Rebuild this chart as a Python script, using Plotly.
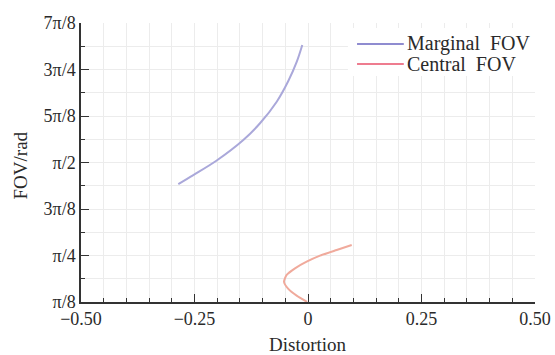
import math
import plotly.graph_objects as go

# Marginal FOV curve (distortion, FOV in rad)
marg_x = [-0.2857, -0.2526, -0.2011, -0.1425, -0.1057, -0.0689, -0.0434, -0.0249, -0.0126]
marg_y = [1.389, 1.465, 1.588, 1.761, 1.902, 2.084, 2.259, 2.420, 2.563]

# Central FOV curve
cent_x = [-0.002, -0.025, -0.0434, -0.0529, -0.047, -0.0286, -0.003, 0.0264, 0.0632, 0.0963]
cent_y = [0.393, 0.446, 0.503, 0.564, 0.621, 0.677, 0.733, 0.784, 0.832, 0.874]

series_names = ["Marginal\u00a0\u00a0FOV", "Central\u00a0\u00a0FOV"]
legend_colors = ["#6a66c0", "#e8506a"]

x_ticks = [-0.5, -0.25, 0, 0.25, 0.5]
x_labels = ["\u22120.50", "\u22120.25", "0", "0.25", "0.50"]
y_ticks = [k * math.pi / 8 for k in range(1, 8)]
y_labels = ["\u03c0/8", "\u03c0/4", "3\u03c0/8", "\u03c0/2", "5\u03c0/8", "3\u03c0/4", "7\u03c0/8"]
y_minor = [k * math.pi / 16 for k in range(2, 15)]
x_minor = [round(-0.5 + 0.05 * i, 2) for i in range(21)]

font = "Liberation Serif"
txt = "#2a2a2a"
grid = "#ececec"

fig = go.Figure()
fig.add_trace(go.Scatter(x=marg_x, y=marg_y, mode="lines", name=series_names[0],
                         line=dict(color="#aaa8da", width=2, shape="spline", smoothing=1.0),
                         showlegend=False))
fig.add_trace(go.Scatter(x=cent_x, y=cent_y, mode="lines", name=series_names[1],
                         line=dict(color="#f0aa9c", width=2, shape="spline", smoothing=0.6),
                         showlegend=False))

# manual legend: white box, line samples, labels (paper coordinates of plot area)
shapes = [dict(type="rect", xref="paper", yref="paper", x0=0.588, x1=1.0, y0=0.81, y1=0.982,
               fillcolor="white", line=dict(width=0), layer="above")]
annotations = []
leg_y = [0.925, 0.853]
for name, col, yy in zip(series_names, legend_colors, leg_y):
    shapes.append(dict(type="line", xref="paper", yref="paper", x0=0.608, x1=0.711, y0=yy, y1=yy,
                       line=dict(color=col, width=1.5), layer="above"))
    annotations.append(dict(text=name, xref="paper", yref="paper", x=0.713, y=yy, xanchor="left",
                            yanchor="middle", showarrow=False,
                            font=dict(family=font, size=20, color=txt)))

annotations += [
    dict(text="Distortion", xref="paper", yref="paper", x=0.5, y=-0.154, xanchor="center",
         yanchor="middle", showarrow=False, font=dict(family=font, size=19, color=txt)),
    dict(text="FOV/rad", xref="paper", yref="paper", x=-0.134, y=0.49, xanchor="center",
         yanchor="middle", textangle=-90, showarrow=False, font=dict(family=font, size=19, color=txt)),
]

fig.update_layout(
    width=555, height=355,
    margin=dict(l=81, r=20, t=23, b=53),
    paper_bgcolor="white", plot_bgcolor="white",
    font=dict(family=font, size=18, color=txt),
    showlegend=False,
    shapes=shapes,
    annotations=annotations,
    xaxis=dict(range=[-0.5, 0.5], tickmode="array", tickvals=x_ticks, ticktext=x_labels,
               showline=True, linecolor="#333", linewidth=1.5, ticks="inside", ticklen=8, tickcolor="#333",
               showgrid=True, gridcolor=grid, gridwidth=1, zeroline=False, automargin=False,
               tickfont=dict(family=font, size=18, color=txt),
               minor=dict(tickmode="array", tickvals=x_minor, ticks="inside", ticklen=4, tickcolor="#333",
                          showgrid=True, gridcolor=grid, gridwidth=1)),
    yaxis=dict(range=[math.pi / 8, 7 * math.pi / 8], tickmode="array", tickvals=y_ticks, ticktext=y_labels,
               showline=True, linecolor="#333", linewidth=1.5, ticks="inside", ticklen=8, tickcolor="#333",
               showgrid=True, gridcolor=grid, gridwidth=1, zeroline=False, automargin=False,
               tickfont=dict(family=font, size=18, color=txt),
               minor=dict(tickmode="array", tickvals=y_minor, ticks="inside", ticklen=4, tickcolor="#333",
                          showgrid=True, gridcolor=grid, gridwidth=1)),
)

fig.write_html("out.html", config={"displayModeBar": False},
               post_script="document.body.style.margin='0';document.body.style.overflow='hidden';")
